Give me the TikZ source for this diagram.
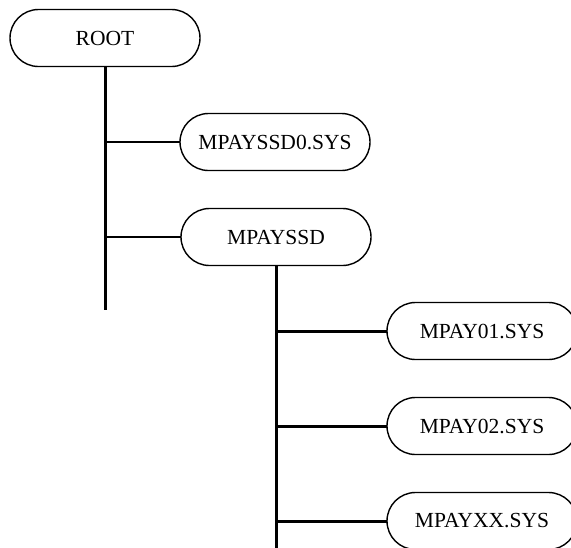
\documentclass[tikz,border=0pt]{standalone}
\usepackage{fontspec}
\setmainfont{Liberation Serif}
\usetikzlibrary{shapes.misc}
\begin{document}
\begin{tikzpicture}[x=1pt,y=-1pt,
  item/.style={rounded rectangle, draw=black, line width=1.4pt, fill=white,
    inner sep=0pt, outer sep=0pt, minimum width=190pt, minimum height=57pt,
    font=\fontsize{21.5}{24}\selectfont},
  trunk/.style={line width=3pt},
  twig/.style={line width=1.5pt},
  limb/.style={line width=3pt}]
\useasboundingbox (0,0) rectangle (571,547);
\clip (0,0) rectangle (571,547);
% top level
\node[item] (root) at (105,38) {ROOT};
\node[item] (s0) at (275,142) {MPAYSSD0.SYS};
\node[item] (ssd) at (276,237) {MPAYSSD};
\coordinate (rootend) at (105,310);
\draw[trunk] (root.south) -- (rootend);
\coordinate (b1) at (root.south |- s0.west);
\coordinate (b2) at (root.south |- ssd.west);
\draw[twig] (b1) -- (s0.west);
\draw[twig] (b2) -- (ssd.west);
% files inside MPAYSSD
\node[item] (f1) at (482,331) {MPAY01.SYS};
\node[item] (f2) at (482,426) {MPAY02.SYS};
\node[item] (fx) at (482,521) {MPAYXX.SYS};
\coordinate (ssdend) at (276,560);
\draw[trunk] (ssd.south) -- (ssdend);
\coordinate (c1) at (ssd.south |- f1.west);
\coordinate (c2) at (ssd.south |- f2.west);
\coordinate (c3) at (ssd.south |- fx.west);
\draw[limb] (c1) -- (f1.west);
\draw[limb] (c2) -- (f2.west);
\draw[limb] (c3) -- (fx.west);
\end{tikzpicture}
\end{document}
